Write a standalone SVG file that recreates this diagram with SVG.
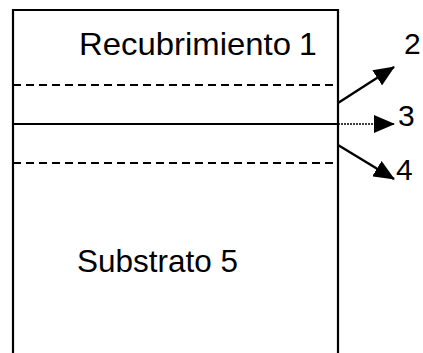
<svg xmlns="http://www.w3.org/2000/svg" width="423" height="353" viewBox="0 0 423 353">
<style>
.ln{stroke:#000;stroke-width:2.2;fill:none}
.dash{stroke:#000;stroke-width:1.8;stroke-dasharray:8 5;fill:none}
.ar{stroke:#000;stroke-width:2.4;fill:none}
.t{font-family:"Liberation Sans",Arial,sans-serif;font-size:32px;fill:#000}
.n{font-family:"Liberation Sans",Arial,sans-serif;font-size:30px;fill:#000}
</style>
<defs>
<marker id="ah" viewBox="0 0 21 18" refX="20" refY="9" markerWidth="21" markerHeight="18" markerUnits="userSpaceOnUse" orient="auto">
<path d="M0,0 L21,9 L0,18 z" fill="#000"/>
</marker>
</defs>
<rect width="423" height="353" fill="#fff"/>
<g id="structure">
<path class="ln" d="M13,353 V10 H338 V353"/>
<line class="dash" x1="13" y1="85" x2="338" y2="85"/>
<line class="ln" x1="13" y1="124" x2="338" y2="124"/>
<line class="dash" x1="13" y1="163" x2="338" y2="163"/>
</g>
<g id="labels">
<text class="t" x="79" y="55" textLength="212" lengthAdjust="spacingAndGlyphs">Recubrimiento</text>
<text class="t" x="299" y="55">1</text>
<text class="t" x="77" y="272" textLength="161" lengthAdjust="spacingAndGlyphs">Substrato 5</text>
</g>
<g id="connectors">
<line class="ar" x1="338" y1="103" x2="394" y2="67" marker-end="url(#ah)"/>
<line x1="338" y1="124" x2="394" y2="124" stroke="#000" stroke-width="1.6" stroke-dasharray="2 1" marker-end="url(#ah)"/>
<line class="ar" x1="338" y1="145" x2="394" y2="179" marker-end="url(#ah)"/>
</g>
<g id="numbers">
<text class="n" x="404" y="54">2</text>
<text class="n" x="398" y="126">3</text>
<text class="n" x="396" y="180">4</text>
</g>
</svg>
